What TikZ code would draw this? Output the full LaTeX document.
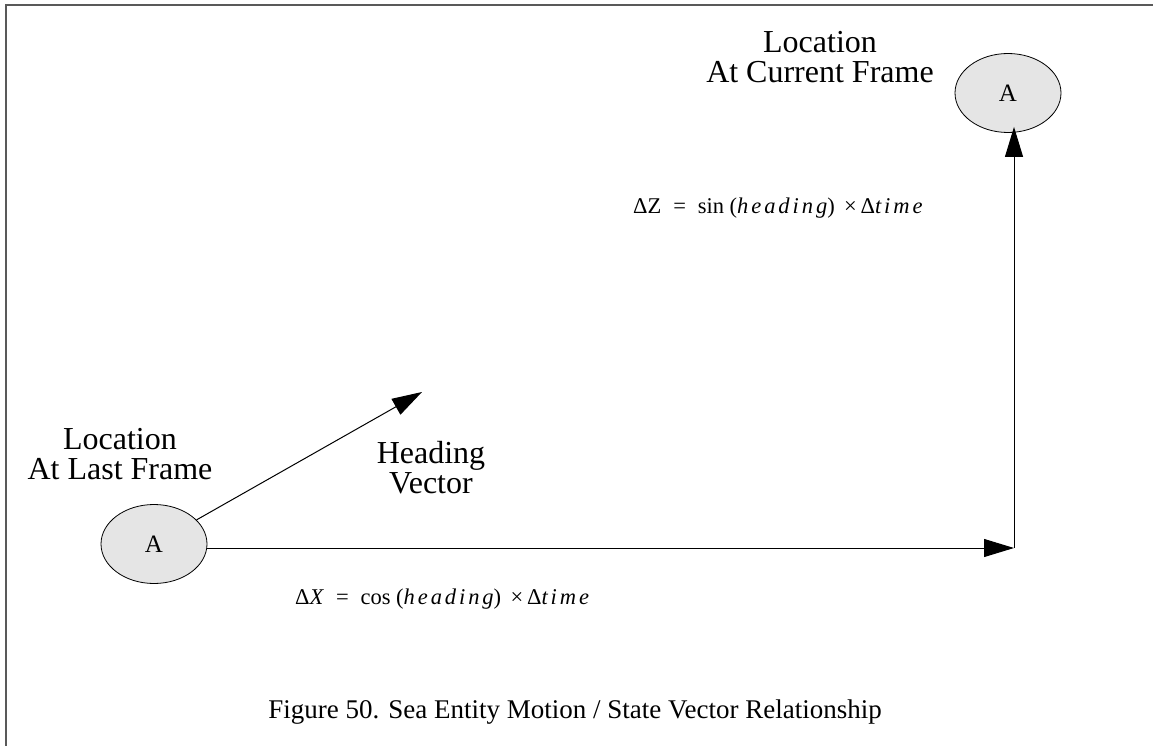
\documentclass[tikz,border=0pt]{standalone}
\usepackage{fontspec}
\setmainfont{Liberation Serif}
\usetikzlibrary{shapes.geometric,arrows.meta}

% spaced italic for the variable names in the equations
\newcommand{\varname}[1]{{\itshape\addfontfeature{LetterSpace=13}#1}}

\begin{document}
\begin{tikzpicture}[x=1pt, y=-1pt,
     loc/.style={ellipse, draw, line width=0.8pt, fill=gray!20, minimum width=106pt, minimum height=79pt, inner sep=0pt, font=\fontsize{25}{25}\selectfont},
     lbl/.style={align=center, font=\fontsize{32}{30}\selectfont},
     eqn/.style={anchor=base west, inner sep=0pt, font=\fontsize{22.5}{22.5}\selectfont},
     vec/.style={line width=1pt, -{Triangle[length=30pt,width=18pt]}}]

   \useasboundingbox (0,0) rectangle (1153,746);
   % frame
   \draw[line width=2pt, black!65] (6,746) -- (6,5) -- (1153,5);

   \node[loc] (last) at (154,544) {A};
   \node[loc] (cur) at (1008,93) {A};
   \coordinate (corner) at (1014,548);
   \coordinate (head) at (422,392);

   \node[lbl] (lastlbl) at (120,454) {Location\\At Last Frame};
   \node[lbl] (curlbl) at (820,57) {Location\\At Current Frame};
   \node[lbl] (headlbl) at (431,468) {Heading\\Vector};

   \node[eqn] (dz) at (633,214) {ΔZ\; =\; sin (\varname{heading})\, ×\,Δ\varname{time}};
   \node[eqn] (dx) at (295,604) {Δ\textit{X}\; =\; cos (\varname{heading})\, ×\,Δ\varname{time}};

   \node[anchor=base, font=\fontsize{27}{27}\selectfont] (caption) at (575,718)
     {Figure 50. Sea Entity Motion / State Vector Relationship};

   \draw[vec] (last) -- (head);
   \draw[vec] (last.east |- corner) -- (corner);
   \draw[vec] (corner) -- ([yshift=6pt]corner |- cur.south);
\end{tikzpicture}
\end{document}
